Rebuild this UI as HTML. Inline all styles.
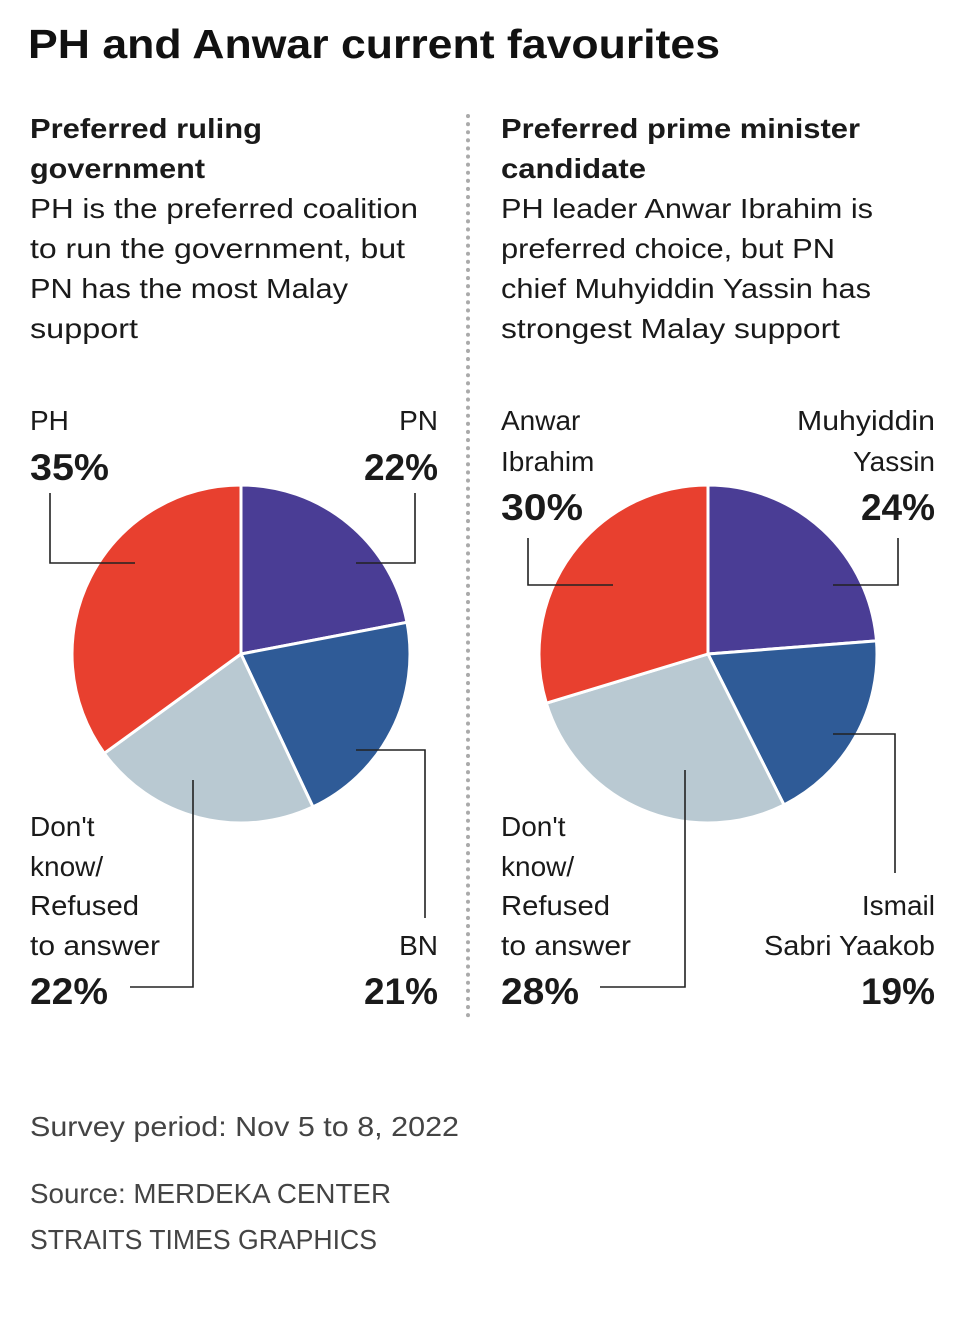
<!DOCTYPE html>
<html><head><meta charset="utf-8"><style>
html,body{margin:0;padding:0;background:#fff;}
svg{display:block;font-family:"Liberation Sans",Arial,sans-serif;}
.t{font-size:28px;fill:#1a1a1a;}
.b{font-weight:bold;}
.p{font-size:37px;font-weight:bold;fill:#1a1a1a;}
.f{font-size:28px;fill:#444;}
.ld{stroke:#222;stroke-width:1.6;fill:none;}
</style></head><body>
<svg id="c" width="960" height="1326" viewBox="0 0 960 1326">
<text x="28" y="58" textLength="692" lengthAdjust="spacingAndGlyphs" style="font-size:41px;font-weight:bold;fill:#111">PH and Anwar current favourites</text>
<line x1="468" y1="116" x2="468" y2="1022" stroke="#aaa" stroke-width="4" stroke-dasharray="0.1,8" stroke-linecap="round"/>
<g lengthAdjust="spacingAndGlyphs">
<text class="t b" x="30" y="138" textLength="232" lengthAdjust="spacingAndGlyphs">Preferred ruling</text>
<text class="t b" x="30" y="178" textLength="175" lengthAdjust="spacingAndGlyphs">government</text>
<text class="t" x="30" y="218" textLength="388" lengthAdjust="spacingAndGlyphs">PH is the preferred coalition</text>
<text class="t" x="30" y="258" textLength="375" lengthAdjust="spacingAndGlyphs">to run the government, but</text>
<text class="t" x="30" y="298" textLength="318" lengthAdjust="spacingAndGlyphs">PN has the most Malay</text>
<text class="t" x="30" y="338" textLength="108" lengthAdjust="spacingAndGlyphs">support</text>
</g>
<g>
<text class="t b" x="501" y="138" textLength="359" lengthAdjust="spacingAndGlyphs">Preferred prime minister</text>
<text class="t b" x="501" y="178" textLength="145" lengthAdjust="spacingAndGlyphs">candidate</text>
<text class="t" x="501" y="218" textLength="372" lengthAdjust="spacingAndGlyphs">PH leader Anwar Ibrahim is</text>
<text class="t" x="501" y="258" textLength="334" lengthAdjust="spacingAndGlyphs">preferred choice, but PN</text>
<text class="t" x="501" y="298" textLength="370" lengthAdjust="spacingAndGlyphs">chief Muhyiddin Yassin has</text>
<text class="t" x="501" y="338" textLength="339" lengthAdjust="spacingAndGlyphs">strongest Malay support</text>
</g>
<g id="pies"></g>
<g>
<text class="t" x="30" y="430">PH</text><text class="p" x="30" y="480" textLength="79" lengthAdjust="spacingAndGlyphs">35%</text>
<text class="t" x="438" y="430" text-anchor="end">PN</text><text class="p" x="438" y="480" text-anchor="end">22%</text>
<text class="t" x="30" y="836">Don't</text><text class="t" x="30" y="876">know/</text><text class="t" x="30" y="915" textLength="109" lengthAdjust="spacingAndGlyphs">Refused</text><text class="t" x="30" y="955" textLength="130" lengthAdjust="spacingAndGlyphs">to answer</text><text class="p" x="30" y="1004" textLength="78" lengthAdjust="spacingAndGlyphs">22%</text>
<text class="t" x="438" y="955" text-anchor="end">BN</text><text class="p" x="438" y="1004" text-anchor="end">21%</text>
<polyline class="ld" points="50,493 50,563 135,563"/>
<polyline class="ld" points="415,493 415,563 356,563"/>
<polyline class="ld" points="356,750 425,750 425,918"/>
<polyline class="ld" points="193,780 193,987 130,987"/>
</g>
<g>
<text class="t" x="501" y="430">Anwar</text><text class="t" x="501" y="471">Ibrahim</text><text class="p" x="501" y="520" textLength="82" lengthAdjust="spacingAndGlyphs">30%</text>
<text class="t" x="797" y="430" textLength="138" lengthAdjust="spacingAndGlyphs">Muhyiddin</text><text class="t" x="935" y="471" text-anchor="end">Yassin</text><text class="p" x="935" y="520" text-anchor="end">24%</text>
<text class="t" x="501" y="836">Don't</text><text class="t" x="501" y="876">know/</text><text class="t" x="501" y="915" textLength="109" lengthAdjust="spacingAndGlyphs">Refused</text><text class="t" x="501" y="955" textLength="130" lengthAdjust="spacingAndGlyphs">to answer</text><text class="p" x="501" y="1004" textLength="78" lengthAdjust="spacingAndGlyphs">28%</text>
<text class="t" x="935" y="915" text-anchor="end">Ismail</text><text class="t" x="764" y="955" textLength="171" lengthAdjust="spacingAndGlyphs">Sabri Yaakob</text><text class="p" x="935" y="1004" text-anchor="end">19%</text>
<polyline class="ld" points="528,538 528,585 613,585"/>
<polyline class="ld" points="898,538 898,585 833,585"/>
<polyline class="ld" points="833,734 895,734 895,873"/>
<polyline class="ld" points="685,770 685,987 600,987"/>
</g>
<text class="f" x="30" y="1136" textLength="429" lengthAdjust="spacingAndGlyphs">Survey period: Nov 5 to 8, 2022</text>
<text class="f" x="30" y="1203" textLength="361" lengthAdjust="spacingAndGlyphs">Source: MERDEKA CENTER</text>
<text class="f" x="30" y="1249" textLength="347" lengthAdjust="spacingAndGlyphs">STRAITS TIMES GRAPHICS</text>
</svg>
<script>
const leftCategories = ["PN","BN","Don't know","PH"];
const leftValues = [22,21,22,35];
const rightCategories = ["Muhyiddin Yassin","Ismail Sabri Yaakob","Don't know","Anwar Ibrahim"];
const rightValues = [24,19,28,30];
const sliceColors = ["#4a3d95","#2f5b97","#b9c9d2","#e8402f"];
function drawPie(cx, cy, r, cats, vals, name) {
  const g = document.getElementById('pies');
  const total = vals.reduce((a,b)=>a+b,0);
  let acc = 0;
  const NS = "http://www.w3.org/2000/svg";
  vals.forEach((v,i)=>{
    const a0 = acc/total*2*Math.PI; acc += v;
    const a1 = acc/total*2*Math.PI;
    const x0 = cx + r*Math.sin(a0), y0 = cy - r*Math.cos(a0);
    const x1 = cx + r*Math.sin(a1), y1 = cy - r*Math.cos(a1);
    const large = (a1-a0) > Math.PI ? 1 : 0;
    const p = document.createElementNS(NS,'path');
    p.setAttribute('d', `M${cx},${cy} L${x0},${y0} A${r},${r} 0 ${large} 1 ${x1},${y1} Z`);
    p.setAttribute('fill', sliceColors[i]);
    p.setAttribute('stroke', '#fff');
    p.setAttribute('stroke-width', '3');
    p.setAttribute('stroke-linejoin', 'round');
    
    
    g.appendChild(p);
  });
}
drawPie(241, 654, 169, leftCategories, leftValues, 'ruling-govt');
drawPie(708, 654, 169, rightCategories, rightValues, 'pm-candidate');
</script>
</body></html>
